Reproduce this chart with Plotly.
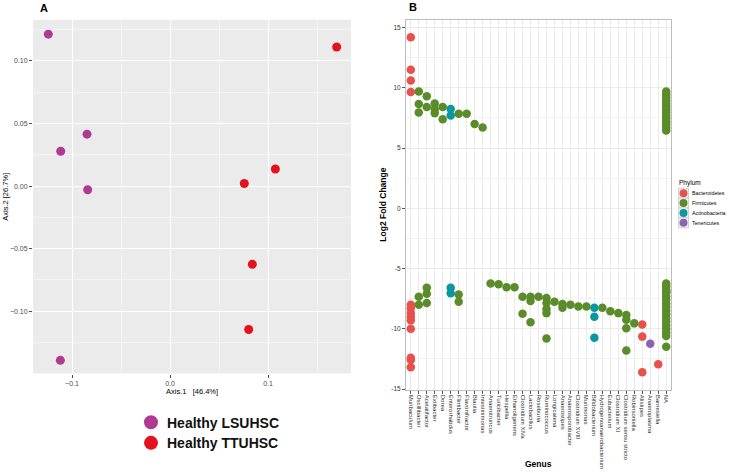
import plotly.graph_objects as go

W, H = 729, 473
FONT = "Liberation Sans, Arial, sans-serif"

# ---------------- Panel A data (PCoA) ----------------
lsu_x = [-0.1242, -0.0847, -0.1115, -0.0840, -0.1119]
lsu_y = [0.1214, 0.0415, 0.0278, -0.0029, -0.1392]
ttu_x = [0.1701, 0.1075, 0.0758, 0.0840, 0.0803]
ttu_y = [0.1111, 0.0137, 0.0021, -0.0625, -0.1146]
groups = ["Healthy LSUHSC", "Healthy TTUHSC"]
group_colors = ["#AE3A94", "#E5121B"]

# ---------------- Panel B data (log2 fold change by genus) ----------------
genera = ["Muribaculum", "Oscillibacter", "Acetatifactor", "Extibacter", "Dorea",
          "Enterorhabdus", "Flintibacter", "Flavonifractor", "Blautia", "Intestinimonas",
          "Anaerotruncus", "Turicibacter", "Hespellia", "Ethanoligenens", "Clostridium XlVa",
          "Lactobacillus", "Roseburia", "Ruminococcus", "Longicatena", "Anaerostipes",
          "Anaerosporobacter", "Clostridium XVIII", "Murimonas", "Bifidobacterium",
          "Hydrogenoanaerobacterium", "Eubacterium", "Clostridium XI",
          "Clostridium sensu stricto", "Robinsoniella", "Alistipes", "Anaeroplasma",
          "Barnesiella", "NA"]

bact_genus = (["Muribaculum"] * 13 + ["Alistipes"] * 3 + ["Barnesiella"])
bact_lfc = [14.2, 11.5, 10.6, 9.65, -8.0, -8.3, -8.7, -9.0, -9.3, -10.0, -12.4, -12.6, -13.2,
            -9.65, -10.65, -13.6,
            -12.95]

firm_genus = (["Oscillibacter"] * 5 + ["Acetatifactor"] * 5 + ["Extibacter"] * 3 +
              ["Dorea"] * 2 + ["Flintibacter"] * 3 + ["Flavonifractor", "Blautia", "Intestinimonas",
              "Anaerotruncus", "Turicibacter", "Hespellia", "Ethanoligenens"] +
              ["Clostridium XlVa"] * 2 + ["Lactobacillus"] * 3 + ["Roseburia"] +
              ["Ruminococcus"] * 5 + ["Longicatena"] + ["Anaerostipes"] * 2 +
              ["Anaerosporobacter", "Clostridium XVIII", "Murimonas", "Hydrogenoanaerobacterium",
               "Eubacterium", "Clostridium XI"] + ["Clostridium sensu stricto"] * 4 +
              ["Robinsoniella"] + ["NA"] * 31)
firm_lfc = ([9.7, 8.65, 7.95, -7.35, -8.0] + [9.3, 8.4, -6.6, -7.1, -7.85] + [8.7, 8.25, 7.9] +
            [8.4, 7.4] + [7.85, -7.15, -7.75] + [7.85, 7.0, 6.7, -6.25, -6.3, -6.55, -6.55] +
            [-7.35, -8.75] + [-7.35, -7.7, -9.45] + [-7.35] +
            [-7.45, -7.85, -8.35, -8.7, -10.8] + [-7.75] + [-7.95, -8.25] +
            [-8.0, -8.15, -8.15, -8.25, -8.55, -8.7] + [-8.85, -9.25, -9.95, -11.8] +
            [-9.55] +
            [9.7, 9.45, 9.2, 8.95, 8.7, 8.45, 8.2, 7.95, 7.7, 7.45, 7.2, 6.95, 6.7, 6.45,
             -6.25, -6.5, -6.75, -7.0, -7.3, -7.6, -7.9, -8.2, -8.5, -8.8, -9.1, -9.4, -9.7,
             -10.0, -10.3, -10.6, -11.5])

acti_genus = ["Enterorhabdus"] * 4 + ["Bifidobacterium"] * 3
acti_lfc = [8.25, 7.7, -6.6, -7.05, -8.25, -9.0, -10.75]

tene_genus = ["NA", "Anaeroplasma"]
tene_lfc = [-6.9, -11.25]

phyla = ["Bacteroidetes", "Firmicutes", "Actinobacteria", "Tenericutes"]
phylum_colors = ["#E8504C", "#5B8C2A", "#0A97A0", "#8C62B2"]

ytick_b = [-15, -10, -5, 0, 5, 10, 15]

# ---------------- Layout geometry (pixels) ----------------
def px(x):
    return x / W

def py(y):
    return 1 - y / H

A_L, A_R, A_T, A_B = 33, 351, 20, 376
B_L, B_R, B_T, B_B = 406, 671, 20, 392

fig = go.Figure()

# Panel A traces
for gx, gy, name, col in [(lsu_x, lsu_y, groups[0], group_colors[0]),
                          (ttu_x, ttu_y, groups[1], group_colors[1])]:
    fig.add_trace(go.Scatter(x=gx, y=gy, mode="markers", name=name, showlegend=False,
                             marker=dict(size=9, color=col, line=dict(width=0)),
                             xaxis="x", yaxis="y"))

# Panel B traces (Tenericutes first so it sits behind)
for g, v, col in [(tene_genus, tene_lfc, phylum_colors[3]),
                  (bact_genus, bact_lfc, phylum_colors[0]),
                  (firm_genus, firm_lfc, phylum_colors[1]),
                  (acti_genus, acti_lfc, phylum_colors[2])]:
    fig.add_trace(go.Scatter(x=g, y=v, mode="markers", showlegend=False,
                             marker=dict(size=8.5, color=col, line=dict(width=0)),
                             xaxis="x2", yaxis="y2"))

tickfont_a = dict(family=FONT, size=7, color="#4D4D4D")
tickfont_b = dict(family=FONT, size=6.5, color="#333333")

fig.update_layout(
    width=W, height=H, autosize=False,
    margin=dict(l=0, r=0, t=0, b=0),
    paper_bgcolor="white", plot_bgcolor="rgba(0,0,0,0)",
    font=dict(family=FONT),
    xaxis=dict(domain=[px(A_L), px(A_R)], range=[-0.1398, 0.1847], anchor="y",
               tickvals=[-0.1, 0.0, 0.1], tickformat=".1f",
               showgrid=True, gridcolor="white", gridwidth=1.1,
               minor=dict(dtick=0.05, tick0=0, showgrid=True, gridcolor="#F4F4F4", gridwidth=0.5),
               zeroline=False, ticks="outside", ticklen=3, tickcolor="#4D4D4D",
               tickfont=tickfont_a, showline=False),
    yaxis=dict(domain=[py(A_B), py(A_T)], range=[-0.1498, 0.1328], anchor="x",
               tickvals=[-0.15, -0.10, -0.05, 0.0, 0.05, 0.10], tickformat=".2f",
               showgrid=True, gridcolor="white", gridwidth=1.1,
               minor=dict(dtick=0.025, tick0=0, showgrid=True, gridcolor="#F4F4F4", gridwidth=0.5),
               zeroline=False, ticks="outside", ticklen=3, tickcolor="#4D4D4D",
               tickfont=tickfont_a, showline=False),
    xaxis2=dict(domain=[px(B_L), px(B_R)], anchor="y2", type="category", categoryorder="array",
                categoryarray=genera, range=[-0.6, len(genera) - 0.4],
                tickmode="array", tickvals=genera, ticktext=genera,
                tickangle=90, showgrid=True, gridcolor="#EBEBEB", gridwidth=0.8,
                ticks="outside", ticklen=3, tickcolor="#555555",
                tickfont=dict(family="Liberation Sans", size=6, color="#333333"),
                showline=True, mirror=True, linecolor="#BDBDBD", linewidth=1,
                zeroline=False),
    yaxis2=dict(domain=[py(B_B), py(B_T)], anchor="x2", range=[-15.04, 15.64],
                tickvals=ytick_b, ticktext=[str(t) for t in ytick_b],
                showgrid=True, gridcolor="#EBEBEB", gridwidth=0.8,
                minor=dict(dtick=2.5, tick0=0, showgrid=True, gridcolor="#F5F5F5", gridwidth=0.5),
                ticks="outside", ticklen=3, tickcolor="#555555", tickfont=tickfont_b,
                showline=True, mirror=True, linecolor="#BDBDBD", linewidth=1,
                zeroline=False),
)

ann = []
shapes = []

# Grey panel background for A (drawn below the grid)
shapes.append(dict(type="rect", xref="paper", yref="paper", layer="below",
                   x0=px(A_L), x1=px(A_R), y0=py(A_B), y1=py(A_T),
                   fillcolor="#EBEBEB", line=dict(width=0)))

# Panel letters
ann.append(dict(text="<b>A</b>", x=px(38), y=py(8), xref="paper", yref="paper",
                xanchor="left", yanchor="middle", showarrow=False,
                font=dict(family=FONT, size=11, color="black")))
ann.append(dict(text="<b>B</b>", x=px(407), y=py(7), xref="paper", yref="paper",
                xanchor="left", yanchor="middle", showarrow=False,
                font=dict(family=FONT, size=11, color="black")))

# Axis titles panel A
ann.append(dict(text="Axis.1   [46.4%]", x=px(192), y=py(393.5), xref="paper", yref="paper",
                xanchor="center", yanchor="middle", showarrow=False,
                font=dict(family=FONT, size=7.5, color="black")))
ann.append(dict(text="Axis.2 [26.7%]", x=px(6), y=py(198), xref="paper", yref="paper",
                xanchor="center", yanchor="middle", showarrow=False, textangle=-90,
                font=dict(family=FONT, size=7.5, color="black")))

# Axis titles panel B
ann.append(dict(text="<b>Log2 Fold Change</b>", x=px(383), y=py(206), xref="paper", yref="paper",
                xanchor="center", yanchor="middle", showarrow=False, textangle=-90,
                font=dict(family=FONT, size=8.5, color="black")))
ann.append(dict(text="<b>Genus</b>", x=px(538), y=py(467), xref="paper", yref="paper",
                xanchor="center", yanchor="middle", showarrow=False,
                font=dict(family=FONT, size=8.5, color="black")))

# Legend A
for i, (name, col) in enumerate(zip(groups, group_colors)):
    cy = 425 + i * 20.7
    shapes.append(dict(type="circle", xref="paper", yref="paper",
                       xsizemode="pixel", ysizemode="pixel",
                       xanchor=px(151), yanchor=py(cy), x0=-7, x1=7, y0=-7, y1=7,
                       fillcolor=col, line=dict(width=0)))
    ann.append(dict(text="<b>" + name + "</b>", x=px(165), y=py(cy + 0.5), xref="paper",
                    yref="paper", xanchor="left", yanchor="middle", showarrow=False,
                    font=dict(family=FONT, size=14, color="#111111")))

# Legend B
ann.append(dict(text="Phylum", x=px(677), y=py(184), xref="paper", yref="paper",
                xanchor="left", yanchor="middle", showarrow=False,
                font=dict(family=FONT, size=6.5, color="black")))
for i, (name, col) in enumerate(zip(phyla, phylum_colors)):
    cy = 194.5 + i * 9.9
    shapes.append(dict(type="rect", xref="paper", yref="paper",
                       xsizemode="pixel", ysizemode="pixel",
                       xanchor=px(683.5), yanchor=py(cy), x0=-5, x1=5, y0=-5, y1=5,
                       fillcolor="#F2F2F2", line=dict(width=0.8, color="#C8C8C8")))
    shapes.append(dict(type="circle", xref="paper", yref="paper",
                       xsizemode="pixel", ysizemode="pixel",
                       xanchor=px(683.5), yanchor=py(cy), x0=-4, x1=4, y0=-4, y1=4,
                       fillcolor=col, line=dict(width=0)))
    ann.append(dict(text=name, x=px(690), y=py(cy), xref="paper", yref="paper",
                    xanchor="left", yanchor="middle", showarrow=False,
                    font=dict(family=FONT, size=5.3, color="black")))

fig.update_layout(annotations=ann, shapes=shapes)

fig.write_html("out.html", config={"displayModeBar": False},
               post_script="document.body.style.margin='0';document.body.style.overflow='hidden';")
